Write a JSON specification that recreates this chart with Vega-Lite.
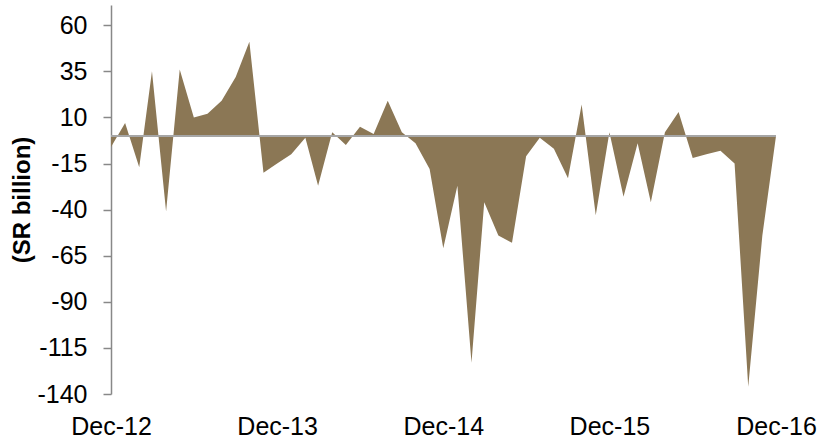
{
  "$schema": "https://vega.github.io/schema/vega-lite/v6.json",
  "autosize": "none",
  "width": 665,
  "height": 389,
  "padding": {"left": 111, "top": 5, "right": 51, "bottom": 47},
  "background": "white",
  "config": {
    "view": {"stroke": null},
    "font": "Liberation Sans"
  },
  "data": {
    "values": [
      {"date": "2012-12-01", "value": -6},
      {"date": "2013-01-01", "value": 7},
      {"date": "2013-02-01", "value": -17},
      {"date": "2013-03-01", "value": 35},
      {"date": "2013-04-01", "value": -41},
      {"date": "2013-05-01", "value": 36},
      {"date": "2013-06-01", "value": 10},
      {"date": "2013-07-01", "value": 12},
      {"date": "2013-08-01", "value": 19},
      {"date": "2013-09-01", "value": 32},
      {"date": "2013-10-01", "value": 51},
      {"date": "2013-11-01", "value": -20},
      {"date": "2013-12-01", "value": -15},
      {"date": "2014-01-01", "value": -10},
      {"date": "2014-02-01", "value": -1},
      {"date": "2014-03-01", "value": -27},
      {"date": "2014-04-01", "value": 2},
      {"date": "2014-05-01", "value": -5},
      {"date": "2014-06-01", "value": 5},
      {"date": "2014-07-01", "value": 1},
      {"date": "2014-08-01", "value": 19},
      {"date": "2014-09-01", "value": 2},
      {"date": "2014-10-01", "value": -4},
      {"date": "2014-11-01", "value": -18},
      {"date": "2014-12-01", "value": -61},
      {"date": "2015-01-01", "value": -27},
      {"date": "2015-02-01", "value": -123},
      {"date": "2015-03-01", "value": -36},
      {"date": "2015-04-01", "value": -54},
      {"date": "2015-05-01", "value": -58},
      {"date": "2015-06-01", "value": -11},
      {"date": "2015-07-01", "value": -1},
      {"date": "2015-08-01", "value": -7},
      {"date": "2015-09-01", "value": -23},
      {"date": "2015-10-01", "value": 17},
      {"date": "2015-11-01", "value": -43},
      {"date": "2015-12-01", "value": 2},
      {"date": "2016-01-01", "value": -33},
      {"date": "2016-02-01", "value": -4},
      {"date": "2016-03-01", "value": -36},
      {"date": "2016-04-01", "value": 2},
      {"date": "2016-05-01", "value": 13},
      {"date": "2016-06-01", "value": -12},
      {"date": "2016-07-01", "value": -10},
      {"date": "2016-08-01", "value": -8},
      {"date": "2016-09-01", "value": -15},
      {"date": "2016-10-01", "value": -136},
      {"date": "2016-11-01", "value": -54},
      {"date": "2016-12-01", "value": 0}
    ]
  },
  "layer": [
    {
      "mark": {"type": "area", "color": "#8B7755", "clip": true},
      "encoding": {
        "x": {
          "field": "date",
          "type": "temporal",
          "scale": {
            "type": "utc",
            "domain": [
              {"year": 2012, "month": 12, "date": 1, "utc": true},
              {"year": 2016, "month": 12, "date": 1, "utc": true}
            ]
          },
          "axis": {
            "title": null,
            "format": "%b-%y",
            "values": [
              {"year": 2012, "month": 12, "date": 1, "utc": true},
              {"year": 2013, "month": 12, "date": 1, "utc": true},
              {"year": 2014, "month": 12, "date": 1, "utc": true},
              {"year": 2015, "month": 12, "date": 1, "utc": true},
              {"year": 2016, "month": 12, "date": 1, "utc": true}
            ],
            "domain": false,
            "ticks": false,
            "grid": false,
            "labelFontSize": 25,
            "labelColor": "#000000",
            "labelPadding": 20,
            "labelFlush": false,
            "labelOverlap": false
          }
        },
        "y": {
          "field": "value",
          "type": "quantitative",
          "scale": {"domain": [-140, 71], "nice": false, "zero": true},
          "axis": {
            "title": "(SR billion)",
            "titleFontSize": 24,
            "titleFontWeight": "bold",
            "titleColor": "#000000",
            "titlePadding": 2,
            "values": [-140, -115, -90, -65, -40, -15, 10, 35, 60],
            "labelExpr": "toString(datum.value)",
            "grid": false,
            "domainColor": "#888888",
            "domainWidth": 1.5,
            "tickColor": "#888888",
            "tickSize": 8,
            "tickWidth": 1.5,
            "labelFontSize": 25,
            "labelColor": "#000000",
            "labelPadding": 16
          }
        }
      }
    },
    {
      "mark": {"type": "rule", "color": "#A6A6A6", "strokeWidth": 2},
      "encoding": {
        "y": {"datum": 0}
      }
    }
  ]
}
